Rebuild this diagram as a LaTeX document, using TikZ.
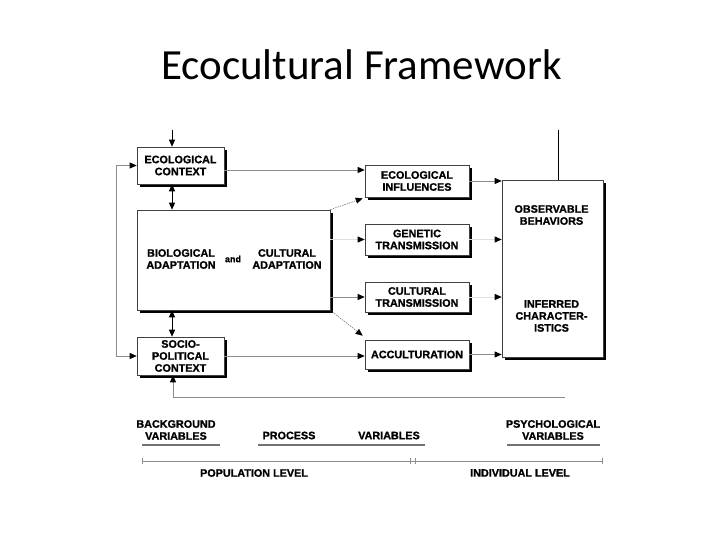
\documentclass[tikz,border=0pt]{standalone}
\usepackage{fontspec}
\newfontfamily\boxfont{Liberation Sans}[UprightFont={* Bold},FakeBold=1.2]
\newfontfamily\titlefont{Carlito}
\usetikzlibrary{arrows.meta,shadows}

\begin{document}
\begin{tikzpicture}[x=1pt,y=-1pt,
        box/.style={draw=black!75,line width=0.6pt,fill=white,align=center,inner sep=1pt,
            font=\boxfont\fontsize{10.8}{12}\selectfont,
            general shadow={fill=black,shadow xshift=3pt,shadow yshift=-3pt}},
        lbl/.style={align=center,inner sep=0pt,font=\boxfont\fontsize{10.8}{12}\selectfont},
        link/.style={-{Triangle[black,length=7pt,width=6pt]},draw=black!45,line width=0.7pt},
        faint/.style={link,draw=black!12},
        hint/.style={link,draw=black!70,line width=0.4pt,dash pattern=on 1.5pt off 1pt},
        twoway/.style={{Triangle[black,length=7pt,width=6pt]}-{Triangle[black,length=7pt,width=6pt]},draw=black,line width=0.8pt},
        bar/.style={draw=black!55,line width=1.8pt},
        tick/.style={draw=black!45,line width=0.5pt}]
        \useasboundingbox (0,0) rectangle (720,540);

        \node[anchor=base,font=\titlefont\fontsize{43}{50}\selectfont] (title) at (361.5,80) {Ecocultural Framework};

        \node[box,minimum width=87pt,minimum height=37pt] (ecoctx) at (180.5,165.5) {ECOLOGICAL\\CONTEXT};
        \node[box,minimum width=193pt,minimum height=100pt] (bio) at (233.5,260) {};
        \node[box,minimum width=87pt,minimum height=38pt] (socio) at (180.5,356) {SOCIO-\\POLITICAL\\CONTEXT};
        \node[lbl] (biolog) at ([xshift=-52.5pt,yshift=1pt]bio.center) {BIOLOGICAL\\ADAPTATION};
        \node[lbl,font=\boxfont\fontsize{9}{10}\selectfont] (and) at ([xshift=-0.5pt,yshift=1pt]bio.center) {and};
        \node[lbl] (cultur) at ([xshift=53.5pt,yshift=1pt]bio.center) {CULTURAL\\ADAPTATION};

        \node[box,minimum width=104pt,minimum height=32pt] (ecoinf) at (417,181) {ECOLOGICAL\\INFLUENCES};
        \node[box,minimum width=104pt,minimum height=31pt] (genetic) at (417,239.5) {GENETIC\\TRANSMISSION};
        \node[box,minimum width=104pt,minimum height=30pt] (cultural) at (417,297) {CULTURAL\\TRANSMISSION};
        \node[box,minimum width=104pt,minimum height=29pt] (accult) at (417,354.5) {ACCULTURATION};

        \node[box,minimum width=101pt,minimum height=177pt] (obs) at (552.5,268.5) {};
        \node[lbl] (behav) at ([xshift=-1pt,yshift=53.5pt]obs.center) {OBSERVABLE\\BEHAVIORS};
        \node[lbl] (infer) at ([xshift=-1pt,yshift=-47.5pt]obs.center) {INFERRED\\CHARACTER-\\ISTICS};

        \coordinate (ctxin) at ([xshift=-8.5pt,yshift=17pt]ecoctx.north);
        \coordinate (obsin) at ([xshift=5.5pt,yshift=50pt]obs.north);
        \coordinate (fbend) at (565,397);

        \draw[link,draw=black] (ctxin) -- ([xshift=-8.5pt]ecoctx.north);
        \draw[draw=black,line width=0.8pt] (obsin) -- ([xshift=5.5pt]obs.north);
        \draw[twoway] ([xshift=-8.5pt]ecoctx.south) -- ([xshift=-8.5pt]ecoctx.south |- bio.north);
        \draw[twoway] ([xshift=-8.5pt]socio.north |- bio.south) -- ([xshift=-8.5pt]socio.north);
        \draw[twoway,draw=black!45,line width=0.7pt] (socio.west) -- ++(-20,0) |- (ecoctx.west);
        \draw[link] (fbend) -| ([xshift=-7.5pt]socio.south);

        \draw[link] ([yshift=-4.5pt]ecoctx.east) -- ([yshift=-4.5pt]ecoctx.east -| ecoinf.west);
        \draw[hint] (bio.north east) -- ([xshift=-2pt,yshift=-1pt]ecoinf.south west);
        \draw[faint] (bio.east |- genetic.west) -- (genetic.west);
        \draw[link] (bio.east |- cultural.west) -- (cultural.west);
        \draw[hint] (bio.south east) -- ([xshift=-2pt,yshift=4pt]accult.north west);
        \draw[link] (socio.east) -- (socio.east -| accult.west);

        \draw[link] (ecoinf.east) -- (ecoinf.east -| obs.west);
        \draw[faint] (genetic.east) -- (genetic.east -| obs.west);
        \draw[faint] (cultural.east) -- (cultural.east -| obs.west);
        \draw[link] (accult.east) -- (accult.east -| obs.west);

        \node[lbl] (bgvar) at (176,430) {BACKGROUND\\VARIABLES};
        \node[lbl] (process) at (289,435.5) {PROCESS};
        \node[lbl] (procvar) at (389,435.5) {VARIABLES};
        \node[lbl] (psyvar) at (553,430) {PSYCHOLOGICAL\\VARIABLES};
        \draw[bar] (142,445) -- (220,445);
        \draw[bar] (258,445) -- (425,445);
        \draw[bar] (507,445) -- (600,445);

        \draw[tick] (142,461) -- (602,461);
        \draw[tick] (142,458) -- (142,464) (410,458) -- (410,464) (415,458) -- (415,464) (602,458) -- (602,464);
        \node[lbl] (poplev) at (254,473) {POPULATION LEVEL};
        \node[lbl] (indlev) at (520,473) {INDIVIDUAL LEVEL};
    \end{tikzpicture}
\end{document}
